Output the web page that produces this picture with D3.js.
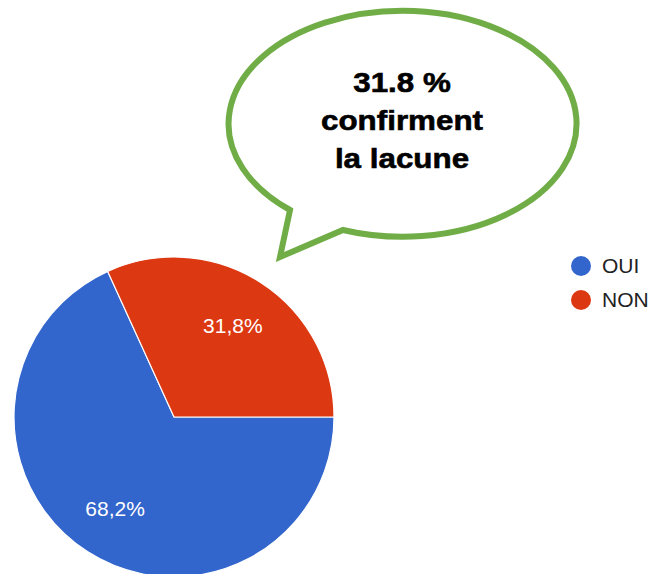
<!DOCTYPE html>
<html>
<head>
<meta charset="utf-8">
<script src="https://cdn.jsdelivr.net/npm/d3@7"></script>
<style>
  html, body { margin: 0; padding: 0; background: #fff; }
  svg { display: block; }
</style>
</head>
<body>
<div id="chart"></div>
<script>
// data
const categories = ['OUI', 'NON'];
const values = [68.2, 31.8];
const colors = ['#3366cc', '#dc3912'];
const bubbleLines = ['31.8 %', 'confirment', 'la lacune'];

const width = 653, height = 574;
const svg = d3.select('#chart').append('svg').attr('width', width).attr('height', height);

// pie
const cx = 174, cy = 417, radius = 160;
const pie = d3.pie().sort(null).startAngle(Math.PI / 2).endAngle(Math.PI / 2 + 2 * Math.PI);
const arc = d3.arc().innerRadius(0).outerRadius(radius);
const labelArc = d3.arc().innerRadius(radius * 0.68).outerRadius(radius * 0.68);
const arcs = pie(values);

const g = svg.append('g').attr('transform', `translate(${cx},${cy})`);
g.selectAll('path')
  .data(arcs)
  .enter()
  .append('path')
  .attr('d', arc)
  .style('fill', (d, i) => colors[i])
  .style('stroke', '#fff')
  .style('stroke-width', 1.2);

g.selectAll('text')
  .data(arcs)
  .enter()
  .append('text')
  .attr('transform', (d) => `translate(${labelArc.centroid(d)})`)
  .attr('dy', '.35em')
  .style('text-anchor', 'middle')
  .style('font-family', '"Liberation Sans", Arial, sans-serif')
  .style('font-size', '21px')
  .style('fill', '#fff')
  .text((d) => `${d.data.toFixed(1).replace('.', ',')}%`);

// legend
const legend = svg.selectAll('.legend')
  .data(categories)
  .enter()
  .append('g')
  .attr('class', 'legend')
  .attr('transform', (d, i) => `translate(581,${266 + i * 34})`);
legend.append('circle').attr('r', 10).style('fill', (d, i) => colors[i]);
legend.append('text')
  .attr('x', 21)
  .attr('dy', '.35em')
  .style('font-family', '"Liberation Sans", Arial, sans-serif')
  .style('font-size', '21px')
  .style('fill', '#222')
  .text((d) => d);

// speech bubble (ellipse centre 404,125 - rx 174, ry 113)
svg.append('path')
  .attr('d', 'M343,230 A174,113 0 1 0 290,210 L280,257 Z')
  .style('fill', '#fff')
  .style('stroke', '#70ad47')
  .style('stroke-width', 6)
  .style('stroke-linejoin', 'miter');

svg.append('g')
  .attr('transform', 'translate(402,0) scale(1.12,1)')
  .selectAll('text')
  .data(bubbleLines)
  .enter()
  .append('text')
  .attr('x', 0)
  .attr('y', (d, i) => 92 + i * 38)
  .style('text-anchor', 'middle')
  .style('font-family', '"Liberation Sans", Arial, sans-serif')
  .style('font-weight', 'bold')
  .style('font-size', '28px')
  .style('fill', '#000')
  .style('stroke', '#000')
  .style('stroke-width', 0.6)
  .text((d) => d);
</script>
</body>
</html>
